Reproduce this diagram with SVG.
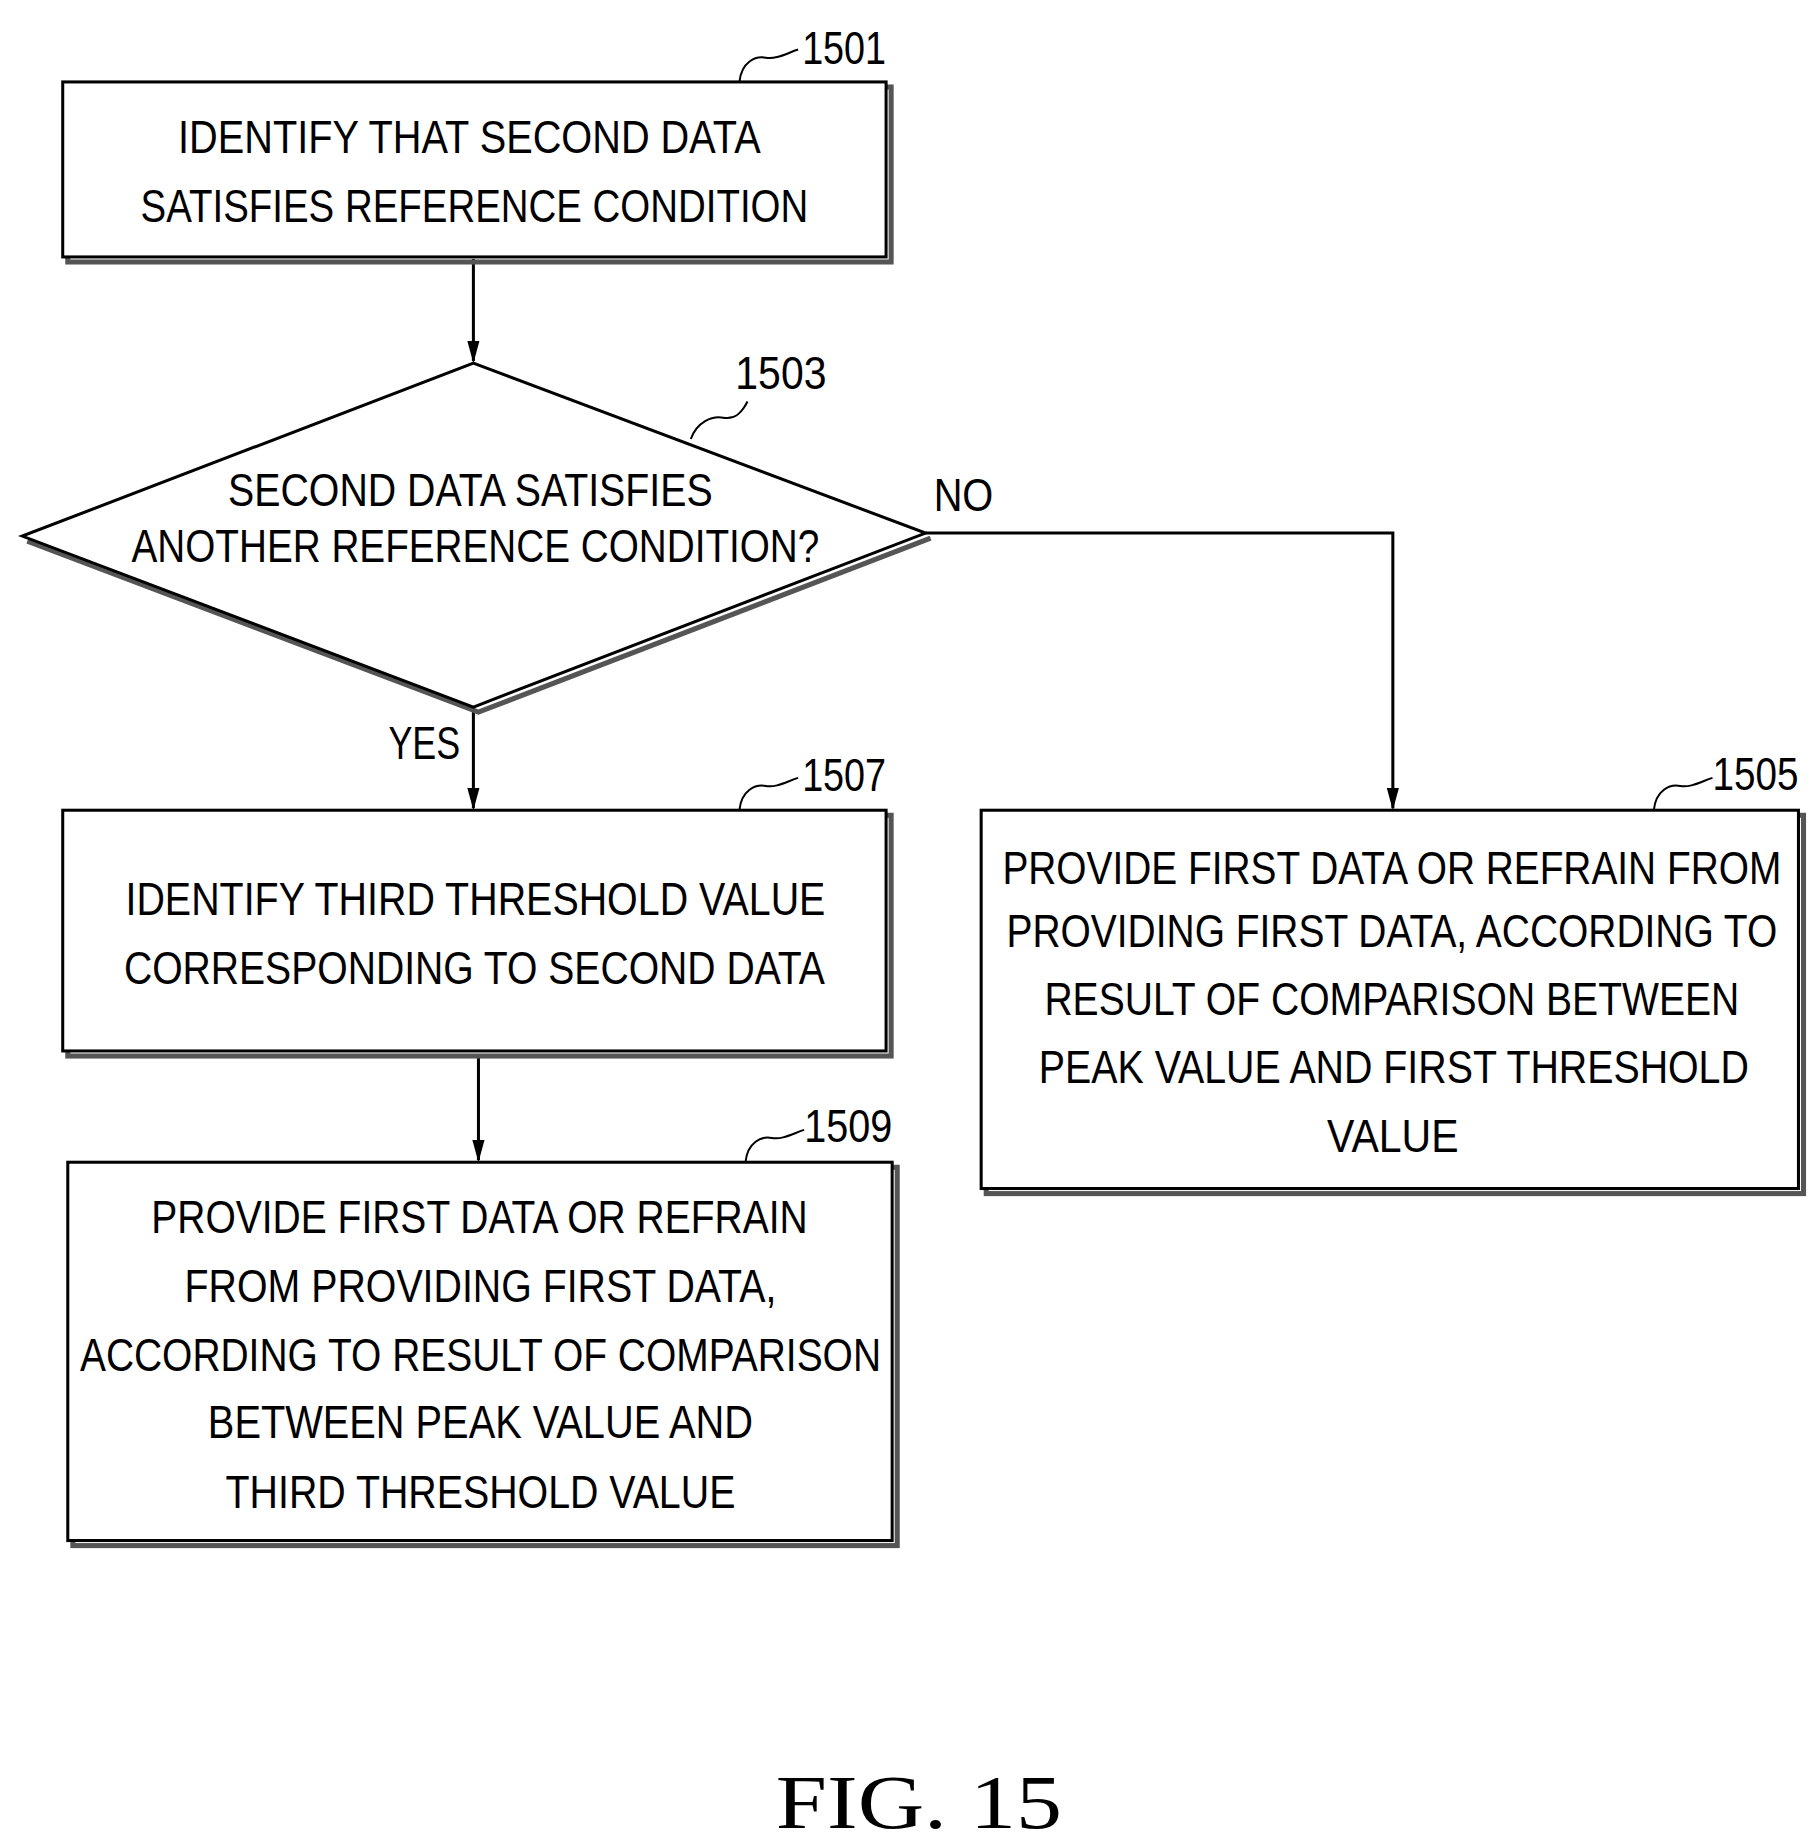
<svg xmlns="http://www.w3.org/2000/svg" width="1808" height="1838" viewBox="0 0 1808 1838">
<style>
.box{fill:#fff;stroke:#000;stroke-width:3}
.sh{fill:none;stroke:#555;stroke-width:5}
.t{font-family:"Liberation Sans",Arial,sans-serif;font-size:46px;text-anchor:middle;fill:#000}
.n{font-family:"Liberation Sans",Arial,sans-serif;font-size:46px;fill:#000}
.ln{fill:none;stroke:#000;stroke-width:3}
.sq{fill:none;stroke:#000;stroke-width:2}
</style>
<g transform="translate(-1,-1) scale(1.0115)">
<g id="connectors">
<line class="ln" x1="469" y1="257" x2="469" y2="358"/>
<path d="M463,338 L469,360 L475,338 Z"/>
<line class="ln" x1="469" y1="702" x2="469" y2="800"/>
<path d="M463,780 L469,802 L475,780 Z"/>
<line class="ln" x1="474" y1="1043" x2="474" y2="1148"/>
<path d="M468,1128 L474,1150 L480,1128 Z"/>
<polyline class="ln" points="916,528 1378,528 1378,800"/>
<path d="M1372,780 L1378,802 L1384,780 Z"/>
<text class="n" x="924" y="506" textLength="59" lengthAdjust="spacingAndGlyphs">NO</text>
<text class="n" x="385" y="751" textLength="71" lengthAdjust="spacingAndGlyphs">YES</text>
</g>
<g id="n1501">
<rect class="sh" x="68" y="87" width="814" height="173"/>
<rect class="box" x="63" y="82" width="814" height="173"/>
<text class="t" x="465" y="152" textLength="576" lengthAdjust="spacingAndGlyphs">IDENTIFY THAT SECOND DATA</text>
<text class="t" x="470" y="220" textLength="660" lengthAdjust="spacingAndGlyphs">SATISFIES REFERENCE CONDITION</text>
<path class="sq" d="M732,82 C734,62 748,56 758,58 S778,54 790,50"/>
<text class="n" x="794" y="64" textLength="83" lengthAdjust="spacingAndGlyphs">1501</text>
</g>
<g id="n1503">
<polyline class="sh" points="28,536 474,705 921,533"/>
<polygon class="box" points="469,360 916,528 469,700 23,531"/>
<text class="t" x="466" y="501" textLength="479" lengthAdjust="spacingAndGlyphs">SECOND DATA SATISFIES</text>
<text class="t" x="471" y="557" textLength="680" lengthAdjust="spacingAndGlyphs">ANOTHER REFERENCE CONDITION?</text>
<path class="sq" d="M684,435 C690,418 705,412 716,414 S734,410 740,398"/>
<text class="n" x="728" y="386" textLength="90" lengthAdjust="spacingAndGlyphs">1503</text>
</g>
<g id="n1507">
<rect class="sh" x="68" y="807" width="814" height="238"/>
<rect class="box" x="63" y="802" width="814" height="238"/>
<text class="t" x="471" y="906" textLength="692" lengthAdjust="spacingAndGlyphs">IDENTIFY THIRD THRESHOLD VALUE</text>
<text class="t" x="470" y="974" textLength="693" lengthAdjust="spacingAndGlyphs">CORRESPONDING TO SECOND DATA</text>
<path class="sq" d="M732,802 C734,782 748,776 758,778 S778,774 790,770"/>
<text class="n" x="794" y="783" textLength="83" lengthAdjust="spacingAndGlyphs">1507</text>
</g>
<g id="n1509">
<rect class="sh" x="73" y="1155" width="815" height="374"/>
<rect class="box" x="68" y="1150" width="815" height="374"/>
<text class="t" x="475" y="1220" textLength="649" lengthAdjust="spacingAndGlyphs">PROVIDE FIRST DATA OR REFRAIN</text>
<text class="t" x="476" y="1288" textLength="585" lengthAdjust="spacingAndGlyphs">FROM PROVIDING FIRST DATA,</text>
<text class="t" x="476" y="1356" textLength="792" lengthAdjust="spacingAndGlyphs">ACCORDING TO RESULT OF COMPARISON</text>
<text class="t" x="476" y="1423" textLength="539" lengthAdjust="spacingAndGlyphs">BETWEEN PEAK VALUE AND</text>
<text class="t" x="476" y="1492" textLength="504" lengthAdjust="spacingAndGlyphs">THIRD THRESHOLD VALUE</text>
<path class="sq" d="M738,1150 C740,1130 754,1124 764,1126 S784,1122 796,1118"/>
<text class="n" x="796" y="1130" textLength="87" lengthAdjust="spacingAndGlyphs">1509</text>
</g>
<g id="n1505">
<rect class="sh" x="976" y="807" width="808" height="374"/>
<rect class="box" x="971" y="802" width="808" height="374"/>
<text class="t" x="1377" y="875" textLength="770" lengthAdjust="spacingAndGlyphs">PROVIDE FIRST DATA OR REFRAIN FROM</text>
<text class="t" x="1377" y="937" textLength="762" lengthAdjust="spacingAndGlyphs">PROVIDING FIRST DATA, ACCORDING TO</text>
<text class="t" x="1377" y="1004" textLength="687" lengthAdjust="spacingAndGlyphs">RESULT OF COMPARISON BETWEEN</text>
<text class="t" x="1379" y="1072" textLength="702" lengthAdjust="spacingAndGlyphs">PEAK VALUE AND FIRST THRESHOLD</text>
<text class="t" x="1378" y="1140" textLength="130" lengthAdjust="spacingAndGlyphs">VALUE</text>
<path class="sq" d="M1636,802 C1638,782 1652,776 1662,778 S1682,774 1694,770"/>
<text class="n" x="1694" y="782" textLength="85" lengthAdjust="spacingAndGlyphs">1505</text>
</g>
<text x="768" y="1808" font-family="Liberation Serif,serif" font-size="76" textLength="283" lengthAdjust="spacingAndGlyphs">FIG. 15</text>
</g>
</svg>
